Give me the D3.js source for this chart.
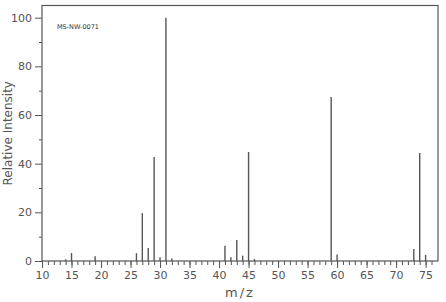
<!DOCTYPE html>
<html>
<head>
<meta charset="utf-8">
<script src="https://cdn.jsdelivr.net/npm/d3@7"></script>
<style>
	body { margin: 0; background: #fff; }
	svg text { font-family: "DejaVu Sans", Verdana, sans-serif; fill: #444; }
</style>
</head>
<body>
<svg id="chart" width="446" height="302"></svg>
<script>
// peaks
var mz = [14, 15, 19, 26, 27, 28, 29, 30, 31, 32, 41, 42, 43, 44, 45, 46, 59, 60, 73, 74, 75];
var intensity = [0.7, 3.3, 2, 3.2, 19.7, 5.3, 42.7, 1.5, 100, 1, 6.3, 1.5, 8.6, 2.2, 44.8, 0.8, 67.4, 2.7, 4.9, 44.4, 2.5];
var xTicks = [10, 15, 20, 25, 30, 35, 40, 45, 50, 55, 60, 65, 70, 75];
var yTicks = [0, 20, 40, 60, 80, 100];
var code = "MS-NW-0071";

var svg = d3.select("#chart");
var plotL = 42, plotR = 438, plotT = 5.5, plotB = 261;

var x = d3.scaleLinear().domain([10, 77.1]).range([plotL, plotR]);
var y = d3.scaleLinear().domain([0, 105]).range([plotB, plotT]);

var axisColor = "#555";

// minor x ticks every unit
svg.append("g")
	.attr("transform", "translate(0," + plotB + ")")
	.call(d3.axisBottom(x).tickValues(d3.range(10, 77)).tickSize(4).tickFormat(""))
	.call(function(g) { g.select(".domain").remove(); })
	.selectAll("line").attr("stroke", axisColor);

svg.append("g")
	.attr("transform", "translate(0," + plotB + ")")
	.call(d3.axisBottom(x).tickValues(xTicks).tickSize(7).tickPadding(3))
	.call(function(g) { g.select(".domain").remove(); })
	.call(function(g) {
		g.selectAll("line").attr("stroke", axisColor);
		g.selectAll("text").style("font-size", "11px").style("fill", "#555");
	});

// minor y ticks
svg.append("g")
	.attr("transform", "translate(" + plotL + ",0)")
	.call(d3.axisLeft(y).tickValues([10, 30, 50, 70, 90]).tickSize(3).tickFormat(""))
	.call(function(g) { g.select(".domain").remove(); })
	.selectAll("line").attr("stroke", axisColor);

svg.append("g")
	.attr("transform", "translate(" + plotL + ",0)")
	.call(d3.axisLeft(y).tickValues(yTicks).tickSize(7).tickPadding(3))
	.call(function(g) { g.select(".domain").remove(); })
	.call(function(g) {
		g.selectAll("line").attr("stroke", axisColor);
		g.selectAll("text").style("font-size", "11px").style("fill", "#555");
	});

// frame
svg.append("rect")
	.attr("x", plotL)
	.attr("y", plotT)
	.attr("width", plotR - plotL)
	.attr("height", plotB - plotT)
	.attr("fill", "none")
	.attr("stroke", axisColor)
	.attr("stroke-width", 1.2);

// peaks
svg.append("g").selectAll("line")
	.data(mz)
	.enter().append("line")
	.attr("x1", function(d) { return x(d); })
	.attr("x2", function(d) { return x(d); })
	.attr("y1", y(0))
	.attr("y2", function(d, i) { return y(intensity[i]); })
	.attr("stroke", "#555")
	.attr("stroke-width", 1.4);

svg.append("text")
	.attr("x", 57)
	.attr("y", 29)
	.style("font-size", "6.5px")
	.style("fill", "#333")
	.text(code);

svg.append("text")
	.attr("transform", "translate(12," + ((plotT + plotB) / 2) + ") rotate(-90)")
	.attr("text-anchor", "middle")
	.style("font-size", "12px")
	.style("fill", "#555")
	.text("Relative Intensity");

svg.append("text")
	.attr("x", (plotL + plotR) / 2)
	.attr("y", 297)
	.attr("text-anchor", "middle")
	.style("font-size", "13px")
	.style("letter-spacing", "2px")
	.style("fill", "#555")
	.text("m/z");
</script>
</body>
</html>
